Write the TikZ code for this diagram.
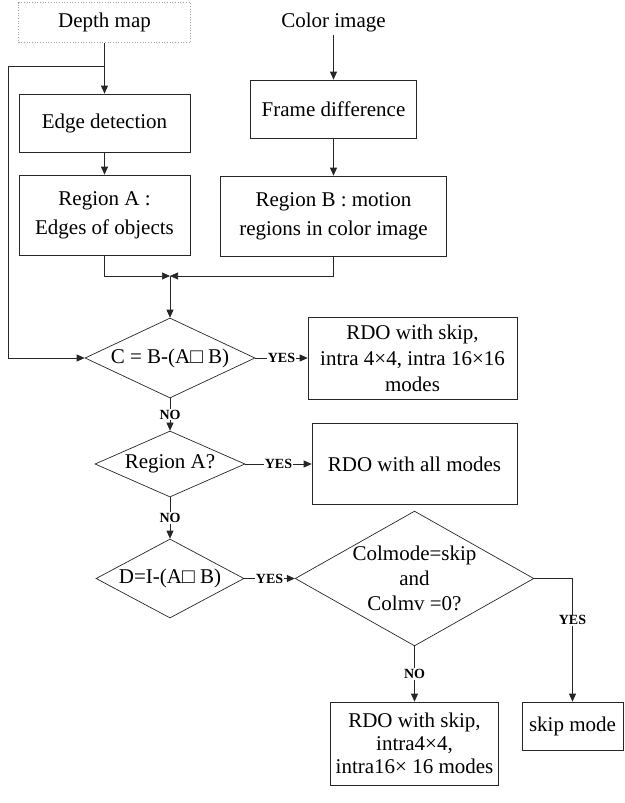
\documentclass[tikz,border=0pt]{standalone}
\usepackage{fontspec}
\setmainfont{Liberation Serif}
\usetikzlibrary{shapes.geometric,arrows.meta}
\begin{document}
\begin{tikzpicture}[x=1pt,y=-1pt,
 every node/.style={font=\fontsize{21}{26}\selectfont},
 box/.style={draw=black!85,line width=0.7pt,rectangle,inner sep=0pt,align=center},
 dia/.style={draw=black!85,line width=0.7pt,diamond,inner sep=0pt,align=center},
 arr/.style={draw=black!85,line width=0.7pt,-{Triangle[length=8pt,width=7pt]}},
 ln/.style={draw=black!85,line width=0.7pt},
 lbl/.style={font=\fontsize{14}{16}\selectfont\bfseries,fill=white,inner sep=1pt}]
\useasboundingbox (0,0) rectangle (624,803);
\node[box, draw=black!35, dotted, minimum width=172, minimum height=40] (dm) at (104.5,22.5) {Depth map};
\node[inner sep=3pt] (ci) at (333.5,22) {Color image};
\node[box, minimum width=171, minimum height=58] (ed) at (104.5,123) {Edge detection};
\node[box, minimum width=171, minimum height=80, font=\fontsize{21}{29}\selectfont] (ra) at (104.5,215) {Region A :\\Edges of objects};
\node[box, minimum width=166, minimum height=58] (fd) at (333.5,109) {Frame difference};
\node[box, minimum width=226, minimum height=80, font=\fontsize{21}{29}\selectfont] (rb) at (333.5,216) {Region B : motion\\regions in color image};
\node[dia, aspect=2.1, minimum width=170, minimum height=80] (dc) at (170,358) {C = B-(A□ B)};
\node[box, minimum width=209, minimum height=82] (r1) at (412.5,358) {RDO with skip,\\intra 4×4, intra 16×16\\modes};
\node[dia, aspect=2.27, minimum width=150, minimum height=66] (da) at (170,464) {Region A?};
\node[box, minimum width=205, minimum height=81] (r2) at (414.5,464) {RDO with all modes};
\node[dia, aspect=1.87, minimum width=148, minimum height=79] (dd) at (170,578.5) {D=I-(A□ B)};
\node[dia, aspect=1.77, minimum width=235, minimum height=133, font=\fontsize{21}{25}\selectfont] (dcol) at (414.5,578.5) {Colmode=skip\\and\\Colmv =0?};
\node[box, minimum width=168, minimum height=83, font=\fontsize{21}{23}\selectfont] (r3) at (414.5,743.5) {RDO with skip,\\intra4×4,\\intra16× 16 modes};
\node[box, minimum width=101, minimum height=48] (sk) at (572.5,726) {skip mode};
\coordinate (fb) at (104.5,66);
\coordinate (fl) at (8,66);
\coordinate (m) at (170,276);
\draw[arr] (dm.south) -- (ed.north);
\draw[ln] (fb) -- (fl);
\draw[arr] (fl) |- (dc.west);
\draw[arr] (ed.south) -- (ra.north);
\draw[arr] (ci.south) -- (fd.north);
\draw[arr] (fd.south) -- (rb.north);
\draw[arr] (ra.south) |- (m);
\draw[arr] (rb.south) |- (m);
\draw[arr] (m) -- (dc.north);
\draw[arr] (dc.east) -- node[lbl]{YES} (r1.west);
\draw[arr] (dc.south) -- node[lbl]{NO} (da.north);
\draw[arr] (da.east) -- node[lbl]{YES} (r2.west);
\draw[arr] (da.south) -- node[lbl]{NO} (dd.north);
\draw[arr] (dd.east) -- node[lbl]{YES} (dcol.west);
\draw[arr] (dcol.south) -- node[lbl]{NO} (r3.north);
\draw[arr] (dcol.east) -| node[lbl,pos=0.67]{YES} (sk.north);
\end{tikzpicture}
\end{document}
